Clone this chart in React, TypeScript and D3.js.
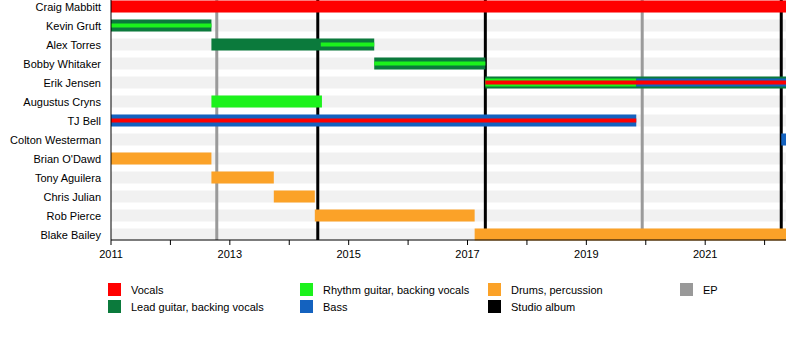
import React from "react";
import * as d3 from "d3";

const members = [
  "Craig Mabbitt", "Kevin Gruft", "Alex Torres", "Bobby Whitaker", "Erik Jensen",
  "Augustus Cryns", "TJ Bell", "Colton Westerman", "Brian O'Dawd", "Tony Aguilera",
  "Chris Julian", "Rob Pierce", "Blake Bailey",
];

const roles = ["Vocals", "Lead guitar, backing vocals", "Rhythm guitar, backing vocals", "Bass", "Drums, percussion"];
const roleColors = ["#ff0000", "#0b7a3c", "#1cf21c", "#1462bf", "#fba228"];

// [member, role, start, end, layer]  layer: 0 full, 1 mid, 2 inner
const spans: [string, string, number, number, number][] = [
  ["Craig Mabbitt", "Vocals", 2011, 2022.36, 0],
  ["Kevin Gruft", "Lead guitar, backing vocals", 2011, 2012.69, 0],
  ["Kevin Gruft", "Rhythm guitar, backing vocals", 2011, 2012.69, 2],
  ["Alex Torres", "Lead guitar, backing vocals", 2012.69, 2015.43, 0],
  ["Alex Torres", "Rhythm guitar, backing vocals", 2014.53, 2015.43, 2],
  ["Bobby Whitaker", "Lead guitar, backing vocals", 2015.43, 2017.3, 0],
  ["Bobby Whitaker", "Rhythm guitar, backing vocals", 2015.43, 2017.3, 2],
  ["Erik Jensen", "Lead guitar, backing vocals", 2017.3, 2022.36, 0],
  ["Erik Jensen", "Rhythm guitar, backing vocals", 2017.3, 2019.84, 1],
  ["Erik Jensen", "Bass", 2019.84, 2022.36, 1],
  ["Erik Jensen", "Vocals", 2017.3, 2022.36, 2],
  ["Augustus Cryns", "Rhythm guitar, backing vocals", 2012.69, 2014.55, 0],
  ["TJ Bell", "Bass", 2011, 2019.84, 0],
  ["TJ Bell", "Vocals", 2011, 2019.84, 2],
  ["Colton Westerman", "Bass", 2022.28, 2022.36, 0],
  ["Brian O'Dawd", "Drums, percussion", 2011, 2012.69, 0],
  ["Tony Aguilera", "Drums, percussion", 2012.69, 2013.74, 0],
  ["Chris Julian", "Drums, percussion", 2013.74, 2014.43, 0],
  ["Rob Pierce", "Drums, percussion", 2014.43, 2017.12, 0],
  ["Blake Bailey", "Drums, percussion", 2017.12, 2022.36, 0],
];

const epReleases = [2012.78, 2019.94];
const albumReleases = [2014.48, 2017.3, 2022.28];
const tickYears = [2011, 2012, 2013, 2014, 2015, 2016, 2017, 2018, 2019, 2020, 2021, 2022];
const labelYears = [2011, 2013, 2015, 2017, 2019, 2021];

const legendItems = [
  ["Vocals", "#ff0000"],
  ["Lead guitar, backing vocals", "#0b7a3c"],
  ["Rhythm guitar, backing vocals", "#1cf21c"],
  ["Bass", "#1462bf"],
  ["Drums, percussion", "#fba228"],
  ["Studio album", "#000000"],
  ["EP", "#999999"],
];

export default function App() {
  const W = 800, H = 360;
  const x = d3.scaleLinear().domain([2011, 2022.36]).range([111, 786]);
  const yc = (m: string) => 6.5 + 19 * members.indexOf(m);
  const color = d3.scaleOrdinal<string, string>().domain(roles).range(roleColors);
  const heights = [12, 8, 4];
  const font = "Liberation Sans, Arial, sans-serif";
  const legendPos = [
    [108, 283], [108, 300], [300, 283], [300, 300], [488, 283], [488, 300], [680, 283],
  ];
  return (
    <svg width={W} height={H} style={{ position: "absolute", left: 0, top: 0, background: "#fff" }} fontFamily={font}>
      {members.map((m) => (
        <rect key={"bg" + m} x={x(2011)} width={x(2022.36) - x(2011)} y={yc(m) - 6} height={12} fill="#f1f1f1" />
      ))}
      {epReleases.map((d) => (
        <line key={"ep" + d} x1={x(d)} x2={x(d)} y1={0} y2={240} stroke="#9a9a9a" strokeWidth={3} />
      ))}
      {albumReleases.map((d) => (
        <line key={"al" + d} x1={x(d)} x2={x(d)} y1={0} y2={240} stroke="#000" strokeWidth={3} />
      ))}
      {spans.map(([m, r, s, e, l], i) => (
        <rect key={"b" + i} x={x(s)} width={x(e) - x(s)} y={yc(m) - heights[l] / 2} height={heights[l]} fill={color(r)} />
      ))}
      <line x1={x(2011)} x2={x(2011)} y1={0} y2={240} stroke="#000" strokeWidth={1} />
      <line x1={x(2011)} x2={x(2022.36)} y1={240} y2={240} stroke="#000" strokeWidth={1} />
      {tickYears.map((t) => (
        <line key={"t" + t} x1={x(t)} x2={x(t)} y1={240} y2={245} stroke="#000" strokeWidth={1} />
      ))}
      {labelYears.map((t) => (
        <text key={"l" + t} x={x(t)} y={258} fontSize={11} textAnchor="middle" fill="#000">{t}</text>
      ))}
      {members.map((m) => (
        <text key={"n" + m} x={101} y={yc(m) + 4} fontSize={11} textAnchor="end" fill="#000">{m}</text>
      ))}
      {legendItems.map(([label, c], i) => (
        <g key={"lg" + i}>
          <rect x={legendPos[i][0]} y={legendPos[i][1]} width={13} height={13} fill={c} />
          <text x={legendPos[i][0] + 23} y={legendPos[i][1] + 10.5} fontSize={11} fill="#000">{label}</text>
        </g>
      ))}
    </svg>
  );
}
